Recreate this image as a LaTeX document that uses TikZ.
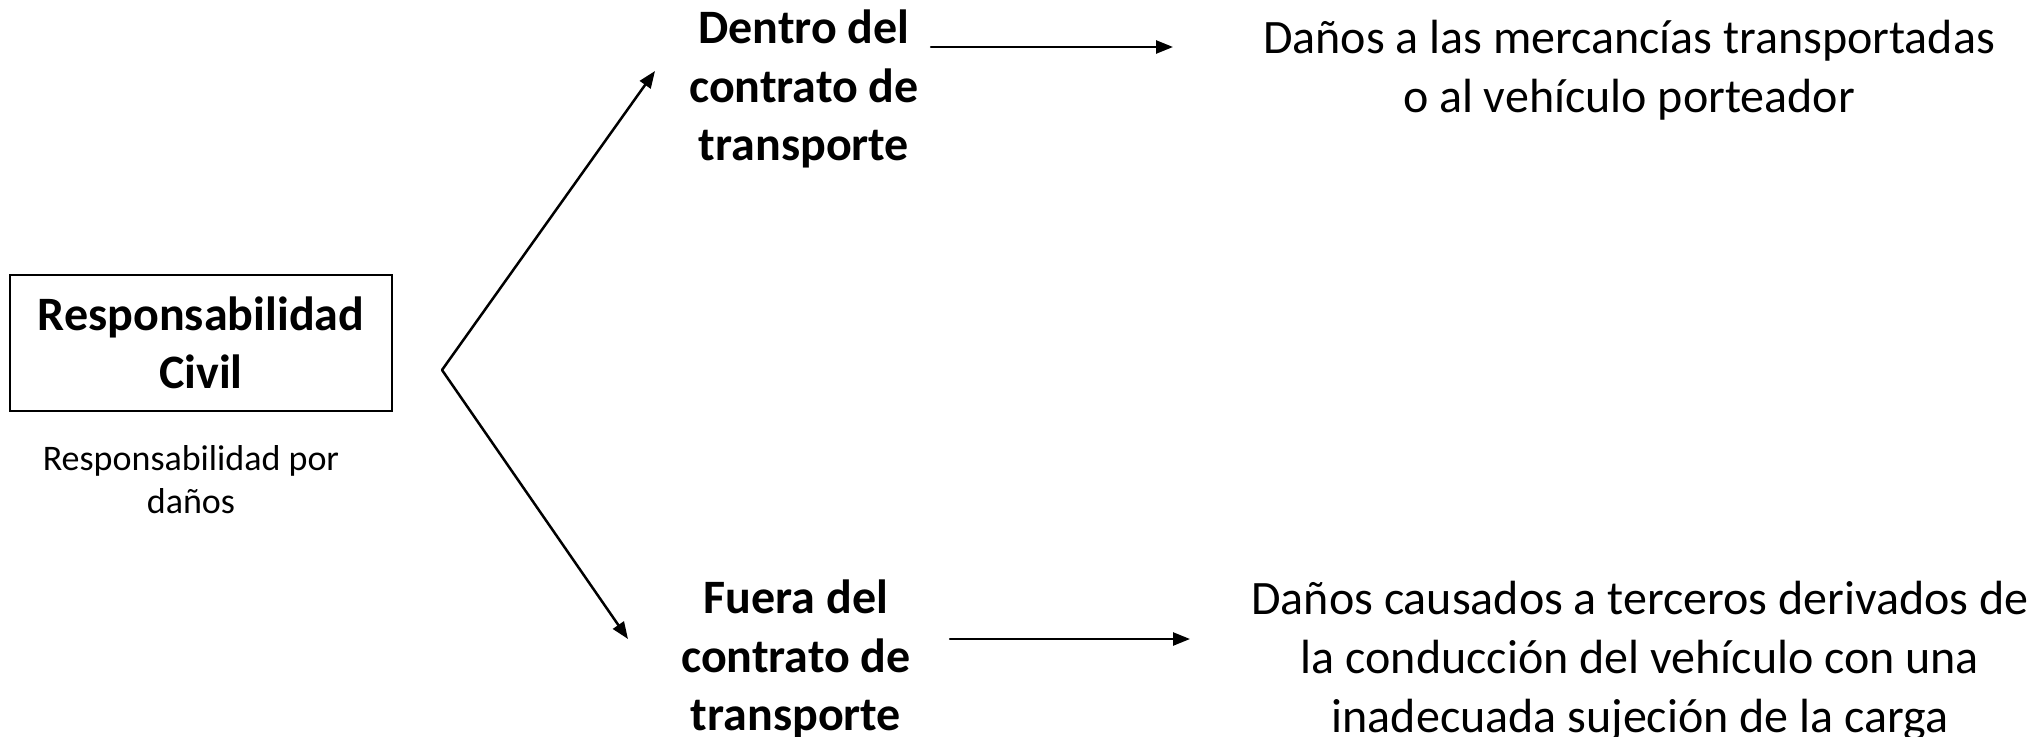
\documentclass[tikz,border=0pt]{standalone}
\usepackage{fontspec}
\setmainfont{Carlito}
\usetikzlibrary{arrows.meta}
\begin{document}
\begin{tikzpicture}[x=1pt,y=-1pt,
  big/.style={font=\fontsize{48}{58.6}\selectfont, align=center, inner sep=0pt},
  bigb/.style={font=\fontsize{48}{58.6}\selectfont\bfseries, align=center, inner sep=0pt},
  small/.style={font=\fontsize{36}{43}\selectfont, align=center, inner sep=0pt},
  conn/.style={line width=2.5pt, line cap=round, -{Triangle[length=17pt,width=13pt]}},
]
\useasboundingbox (0,0) rectangle (2033,736);
\node[bigb, draw, line width=2.5pt, minimum width=382pt, minimum height=136pt] (rc) at (201,343) {Responsabilidad\\Civil};
\node[small] (rpd) at (191,480) {Responsabilidad por\\daños};
\coordinate (v) at (442,370);
\node[bigb] (dentro) at (804,89) {Dentro del\\contrato de\\transporte};
\node[bigb] (fuera) at (796,659) {Fuera del\\contrato de\\transporte};
\node[big] (d1) at (1629,70) {Daños a las mercancías transportadas\\o al vehículo porteador};
\node[big] (d2) at (1640,661) {Daños causados a terceros derivados de\\la conducción del vehículo con una\\inadecuada sujeción de la carga};
\coordinate (t1) at (655,71);
\coordinate (t2) at (628,639);
\coordinate (a1s) at (931,47);
\coordinate (a1e) at (1173,47);
\coordinate (a2s) at (950,639);
\coordinate (a2e) at (1190,639);
\draw[conn] (v) -- (t1);
\draw[conn] (v) -- (t2);
\draw[conn] (a1s) -- (a1e);
\draw[conn] (a2s) -- (a2e);
\end{tikzpicture}
\end{document}
